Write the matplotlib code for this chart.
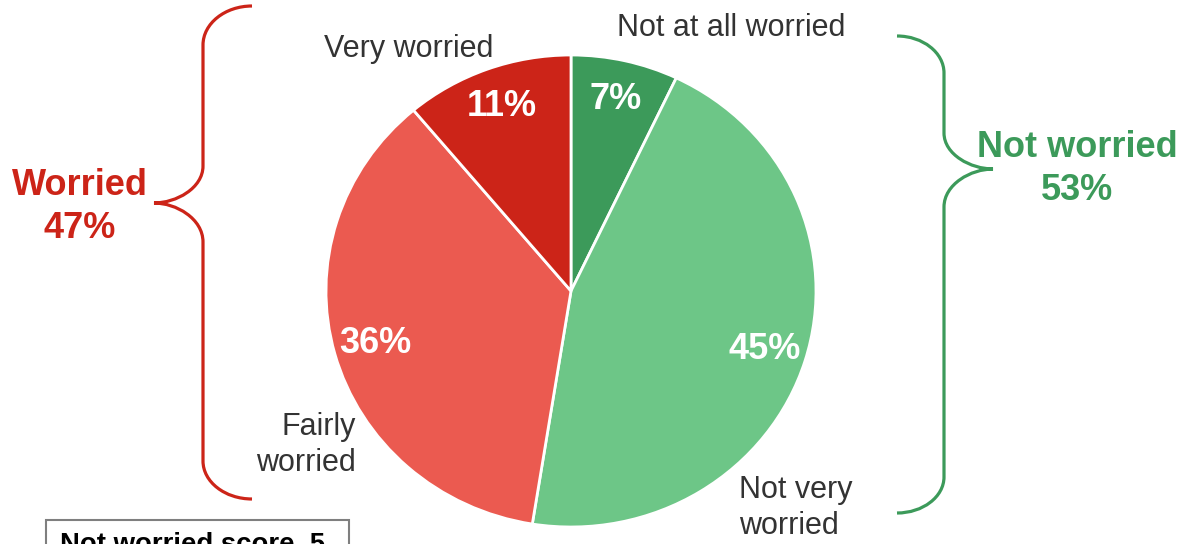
import matplotlib.pyplot as plt
from matplotlib.path import Path
from matplotlib.patches import PathPatch, Rectangle

# ---------------------------------------------------------------
# Podatki
# ---------------------------------------------------------------
kategorije = ['Not at all worried', 'Not very\nworried', 'Fairly\nworried', 'Very worried']
vrednosti = [7, 45, 36, 11]
barve = ['#3c9a5a', '#6dc687', '#eb5a50', '#cc2418']

skupine = ['Worried', 'Not worried']
skupine_pct = [47, 53]
skupine_barve = ['#cc2418', '#3c9a5a']

opomba = 'Not worried score  5'

plt.rcParams['font.family'] = ['Liberation Sans', 'DejaVu Sans']

W, H = 1190, 544
fig = plt.figure(figsize=(W / 100, H / 100), dpi=100)

# ---------------------------------------------------------------
# Torta (rahlo eliptična, kot v izvirniku)
# ---------------------------------------------------------------
ax = fig.add_axes([326 / W, (H - 527) / H, 490 / W, 472 / H])
skupaj = sum(vrednosti)
wedges, _, autotexts = ax.pie(
    vrednosti, colors=barve, startangle=90, counterclock=False,
    autopct=lambda p: f'{round(p * skupaj / 100):.0f}%', pctdistance=0.83,
    wedgeprops=dict(edgecolor='white', linewidth=2),
    textprops=dict(color='white', fontsize=26, fontweight='bold'))
ax.set_aspect('auto')
ax.set_xlim(-1, 1)
ax.set_ylim(-1, 1)
ax.axis('off')

# ---------------------------------------------------------------
# Prekrivna os v pikslih za oznake in zavite oklepaje
# ---------------------------------------------------------------
ov = fig.add_axes([0, 0, 1, 1])
ov.set_xlim(0, W)
ov.set_ylim(H, 0)
ov.axis('off')

siva = '#333333'
fs = 22
ov.text(731, 28, kategorije[0], ha='center', va='center', fontsize=fs, color=siva)
ov.text(739, 508, kategorije[1], ha='left', va='center', fontsize=fs, color=siva,
        linespacing=1.3)
ov.text(356, 445, kategorije[2], ha='right', va='center', fontsize=fs, color=siva,
        linespacing=1.3)
ov.text(409, 49, kategorije[3], ha='center', va='center', fontsize=fs, color=siva)


def oklepaj(x_konec, x_navp, x_konica, y_vrh, y_konica, y_dno,
            z1, z2, z3, z4, barva):
    """Nariše zavit oklepaj iz kubičnih Bezierjevih krivulj."""
    tocke = [
        (x_konec, y_vrh),
        (x_konec + (x_navp - x_konec) * 0.55, y_vrh),
        (x_navp, y_vrh + (z1 - y_vrh) * 0.45), (x_navp, z1),
        (x_navp, z2),
        (x_navp, z2 + (y_konica - z2) * 0.6),
        (x_konica + (x_navp - x_konica) * 0.45, y_konica), (x_konica, y_konica),
        (x_konica + (x_navp - x_konica) * 0.45, y_konica),
        (x_navp, y_konica + (z3 - y_konica) * 0.4), (x_navp, z3),
        (x_navp, z4),
        (x_navp, z4 + (y_dno - z4) * 0.55),
        (x_navp + (x_konec - x_navp) * 0.45, y_dno), (x_konec, y_dno),
    ]
    kode = [Path.MOVETO,
            Path.CURVE4, Path.CURVE4, Path.CURVE4,
            Path.LINETO,
            Path.CURVE4, Path.CURVE4, Path.CURVE4,
            Path.CURVE4, Path.CURVE4, Path.CURVE4,
            Path.LINETO,
            Path.CURVE4, Path.CURVE4, Path.CURVE4]
    ov.add_patch(PathPatch(Path(tocke, kode), fill=False, edgecolor=barva,
                           linewidth=2.3, capstyle='butt'))


# levi (rdeč) in desni (zelen) oklepaj
oklepaj(252, 203, 154, 6, 203, 499, 45, 166, 242, 461, skupine_barve[0])
oklepaj(897, 944, 993, 36, 169, 513, 73, 133, 207, 477, skupine_barve[1])

ov.text(80, 207, f'{skupine[0]}\n{skupine_pct[0]}%', ha='center', va='center',
        fontsize=26, fontweight='bold', color=skupine_barve[0], linespacing=1.3)
ov.text(1077, 169, f'{skupine[1]}\n{skupine_pct[1]}%', ha='center', va='center',
        fontsize=26, fontweight='bold', color=skupine_barve[1], linespacing=1.3)

# okvir z opombo spodaj levo (odrezan na robu slike)
ov.add_patch(Rectangle((46, 520), 303, 40, facecolor='white', edgecolor='#7f7f7f',
                       linewidth=1.5, clip_on=False))
ov.text(60, 552, opomba, ha='left', va='baseline', fontsize=19.8,
        fontweight='bold', color='black')

fig.savefig('out.png', dpi=100)
